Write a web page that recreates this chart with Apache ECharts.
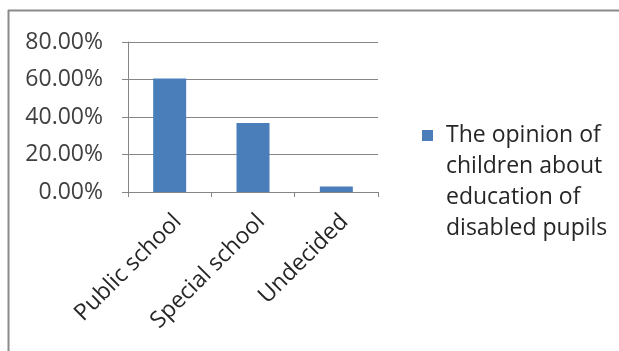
<!DOCTYPE html>
<html><head><meta charset="utf-8">
<script src="https://cdn.jsdelivr.net/npm/echarts@6/dist/echarts.min.js"></script>
<style>html,body{margin:0;padding:0;background:#fff}#c{width:619px;height:351px}</style>
</head><body><div id="c"></div>
<script>
const categories = ['Public school', 'Special school', 'Undecided'];
const values = [60.5, 36.8, 3];
const seriesName = 'The opinion of\nchildren about\neducation of\ndisabled pupils';
const yTicks = [0, 20, 40, 60, 80];

const chart = echarts.init(document.getElementById('c'), null, {renderer: 'canvas'});
const font = 'Open Sans';
chart.setOption({
  animation: false,
  backgroundColor: '#fff',
  graphic: [
    {type: 'line', shape: {x1: 8, y1: 10.5, x2: 619, y2: 10.5}, style: {stroke: '#8a8a8a', lineWidth: 2}},
    {type: 'line', shape: {x1: 8.5, y1: 10, x2: 8.5, y2: 351}, style: {stroke: '#8a8a8a', lineWidth: 2}}
  ],
  grid: {left: 128, right: 241, top: 42, bottom: 159},
  legend: {
    left: 417, top: 115, orient: 'vertical', itemWidth: 11, itemHeight: 124, itemGap: 0,
    icon: 'path://M0,10H11V21H0Z M0,0H0.01 M0,124H0.01',
    textStyle: {fontFamily: font, fontSize: 23, color: '#262626', lineHeight: 31, padding: [0,0,0,8]},
    data: [seriesName]
  },
  xAxis: {
    type: 'category', data: categories,
    axisLine: {lineStyle: {color: '#868686'}},
    axisTick: {show: true, length: 5, lineStyle: {color: '#868686'}},
    axisLabel: {rotate: 45, fontFamily: font, fontSize: 23, color: '#262626', margin: 18, verticalAlign: 'top'}
  },
  yAxis: {
    type: 'value', min: 0, max: 80, interval: 20,
    axisLine: {show: true, lineStyle: {color: '#868686'}},
    axisTick: {show: true, length: 6, lineStyle: {color: '#868686'}},
    splitLine: {lineStyle: {color: '#868686'}},
    axisLabel: {fontFamily: font, fontSize: 23, color: '#404040', margin: 25,
      formatter: v => v.toFixed(2) + '%'}
  },
  series: [{
    name: seriesName, type: 'bar', data: values, barWidth: 33,
    itemStyle: {color: '#4a7ebb'}
  }]
});
</script></body></html>
